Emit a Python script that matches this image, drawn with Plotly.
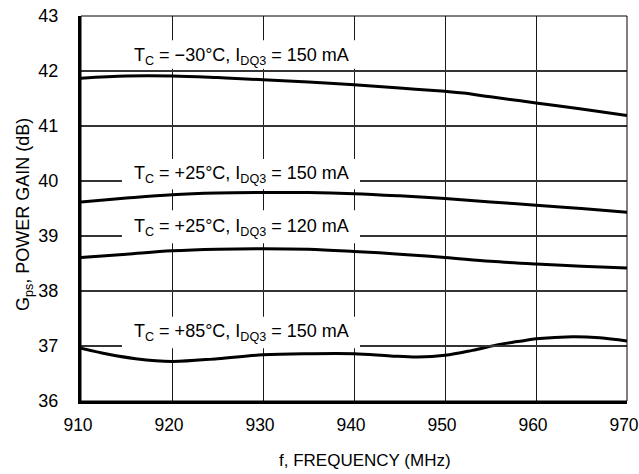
import plotly.graph_objects as go

# Frequency sweep (MHz) and power gain (dB) for each bias / temperature condition
freq_m30 = [910, 915, 920, 925, 930, 935, 940, 945, 950, 952, 955, 960, 965, 970]
gain_m30 = [41.87, 41.91, 41.91, 41.88, 41.84, 41.80, 41.75, 41.69, 41.63, 41.60, 41.53, 41.42, 41.31, 41.19]

freq_25_150 = [910, 915, 920, 925, 930, 935, 940, 945, 950, 955, 960, 965, 970]
gain_25_150 = [39.62, 39.69, 39.75, 39.78, 39.79, 39.79, 39.77, 39.73, 39.68, 39.62, 39.56, 39.50, 39.43]

freq_25_120 = [910, 915, 920, 925, 930, 935, 940, 945, 950, 955, 960, 965, 970]
gain_25_120 = [38.61, 38.67, 38.73, 38.76, 38.77, 38.76, 38.72, 38.67, 38.61, 38.54, 38.49, 38.45, 38.42]

freq_85 = [910, 913, 916, 920, 925, 930, 935, 940, 944, 947, 950, 953, 956, 958, 960, 964, 967, 970]
gain_85 = [36.96, 36.85, 36.77, 36.72, 36.77, 36.84, 36.86, 36.86, 36.82, 36.80, 36.83, 36.92, 37.03, 37.08, 37.13, 37.17, 37.15, 37.09]

curve_labels = [
    "T<sub>C</sub> = \u221230\u00b0C, I<sub>DQ3</sub> = 150 mA",
    "T<sub>C</sub> = +25\u00b0C, I<sub>DQ3</sub> = 150 mA",
    "T<sub>C</sub> = +25\u00b0C, I<sub>DQ3</sub> = 120 mA",
    "T<sub>C</sub> = +85\u00b0C, I<sub>DQ3</sub> = 150 mA",
]

x_ticks = [910, 920, 930, 940, 950, 960, 970]
y_ticks = [36, 37, 38, 39, 40, 41, 42, 43]

FONT = "Liberation Sans, Arial, sans-serif"
FS = 18
PLOT_H = 385  # plot area height in px
Y_PER_PX = (y_ticks[-1] - y_ticks[0]) / PLOT_H

fig = go.Figure()
for fx, gy in [(freq_m30, gain_m30), (freq_25_150, gain_25_150),
               (freq_25_120, gain_25_120), (freq_85, gain_85)]:
    fig.add_trace(go.Scatter(x=fx, y=gy, mode="lines",
                             line=dict(color="black", width=3, shape="spline", smoothing=1.0),
                             showlegend=False, hoverinfo="skip"))

# horizontal grid as thin dark bands (the black curves hide them where they cross)
for yv in y_ticks[1:-1]:
    fig.add_shape(type="rect", xref="x", yref="y", x0=x_ticks[0], x1=x_ticks[-1],
                  y0=yv - Y_PER_PX, y1=yv + Y_PER_PX, fillcolor="#333333",
                  line=dict(width=0), layer="above")

# label placement: (text center y, box bottom, box top) in gain units
label_pos = [(42.27, 42.04, 42.56), (40.11, 39.85, 40.40),
             (39.16, 38.87, 39.47), (37.24, 36.96, 37.53)]
for text, (yc, yb, yt) in zip(curve_labels, label_pos):
    # white patch that interrupts the grid behind each label
    fig.add_shape(type="rect", xref="x", yref="y", x0=914.5, x1=940.66, y0=yb, y1=yt,
                  fillcolor="white", line=dict(width=0), layer="above")
    fig.add_annotation(x=927.6, y=yc, xref="x", yref="y", text=text, showarrow=False,
                       xanchor="center", yanchor="middle",
                       font=dict(family=FONT, size=FS, color="black"))

# thin frame on top/right
fig.add_shape(type="rect", xref="paper", yref="paper", x0=0, x1=1, y0=0, y1=1,
              line=dict(color="black", width=1), fillcolor="rgba(0,0,0,0)", layer="above")

fig.add_annotation(xref="paper", yref="paper", x=(365 - 81) / 546, y=-(460 - 401) / 385,
                   text="f, FREQUENCY (MHz)", showarrow=False, xanchor="center", yanchor="middle",
                   font=dict(family=FONT, size=17, color="black"))
fig.add_annotation(xref="paper", yref="paper", x=-(81 - 24) / 546, y=(401 - 215) / 385,
                   text="G<sub>ps</sub>, POWER GAIN (dB)", showarrow=False, textangle=-90,
                   xanchor="center", yanchor="middle",
                   font=dict(family=FONT, size=FS, color="black"))

fig.update_layout(
    template="none",
    width=639, height=474,
    margin=dict(l=81, r=12, t=16, b=73, autoexpand=False),
    paper_bgcolor="white", plot_bgcolor="white",
    font=dict(family=FONT, size=FS, color="black"),
)
axis_common = dict(ticks="", showline=True, linecolor="black", linewidth=3, zeroline=False,
                   automargin=False, ticklabeloverflow="allow")
fig.update_xaxes(range=[910, 970], tickvals=x_ticks, ticklabelstandoff=6, ticklabelshift=-3,
                 showgrid=True, gridcolor="#1a1a1a", gridwidth=1,
                 tickfont=dict(family=FONT, size=17.5), **axis_common)
fig.update_yaxes(range=[36, 43], tickvals=y_ticks, ticklabelstandoff=16, showgrid=False,
                 tickfont=dict(family=FONT, size=FS), **axis_common)

fig.write_html("out.html")
